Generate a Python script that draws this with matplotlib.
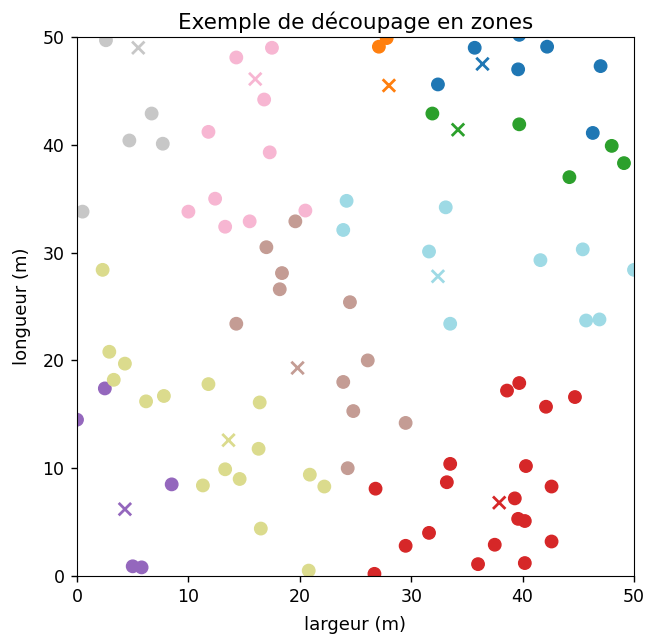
import matplotlib.pyplot as plt
import numpy as np

# points of each zone (largeur, longueur)
zone_x = [
    [35.7, 39.7, 42.2, 32.4, 39.6, 47.0, 46.3],
    [27.1, 27.8],
    [31.9, 39.7, 48.0, 49.1, 44.2],
    [26.8, 29.5, 31.6, 33.2, 33.5, 36.0, 37.5, 38.6, 39.7, 39.3, 39.6, 40.2, 40.3, 40.2, 42.1, 42.6, 42.6, 44.7, 26.7],
    [0.0, 2.5, 8.5, 5.0, 5.8],
    [17.0, 19.6, 18.4, 18.2, 14.3, 24.5, 26.1, 23.9, 24.8, 29.5, 24.3],
    [14.3, 17.5, 16.8, 11.8, 17.3, 12.4, 10.0, 13.3, 15.5, 20.5],
    [2.6, 6.7, 4.7, 7.7, 0.5],
    [2.3, 2.9, 4.3, 3.3, 6.2, 7.8, 11.8, 16.4, 16.3, 13.3, 11.3, 14.6, 20.9, 22.2, 16.5, 20.8],
    [24.2, 23.9, 33.1, 31.6, 41.6, 45.4, 33.5, 45.7, 46.9, 50.0],
]
zone_y = [
    [49.0, 50.2, 49.1, 45.6, 47.0, 47.3, 41.1],
    [49.1, 49.9],
    [42.9, 41.9, 39.9, 38.3, 37.0],
    [8.1, 2.8, 4.0, 8.7, 10.4, 1.1, 2.9, 17.2, 17.9, 7.2, 5.3, 5.1, 10.2, 1.2, 15.7, 8.3, 3.2, 16.6, 0.2],
    [14.5, 17.4, 8.5, 0.9, 0.8],
    [30.5, 32.9, 28.1, 26.6, 23.4, 25.4, 20.0, 18.0, 15.3, 14.2, 10.0],
    [48.1, 49.0, 44.2, 41.2, 39.3, 35.0, 33.8, 32.4, 32.9, 33.9],
    [49.7, 42.9, 40.4, 40.1, 33.8],
    [28.4, 20.8, 19.7, 18.2, 16.2, 16.7, 17.8, 16.1, 11.8, 9.9, 8.4, 9.0, 9.4, 8.3, 4.4, 0.5],
    [34.8, 32.1, 34.2, 30.1, 29.3, 30.3, 23.4, 23.7, 23.8, 28.4],
]

# zone centres (x markers)
centre_x = [36.4, 28.0, 34.2, 37.9, 4.3, 19.8, 16.0, 5.5, 13.6, 32.4]
centre_y = [47.5, 45.5, 41.4, 6.8, 6.2, 19.3, 46.1, 49.0, 12.6, 27.8]

x = np.concatenate(zone_x)
y = np.concatenate(zone_y)
labels = np.concatenate([[i] * len(v) for i, v in enumerate(zone_x)])

fig = plt.figure(figsize=(6.48, 6.39), dpi=100)
ax = fig.add_axes([77 / 648, 1 - 576 / 639, 557 / 648, 539 / 639])

ax.scatter(x, y, c=labels, cmap='tab20', s=80)
ax.scatter(centre_x, centre_y, c=range(len(centre_x)), cmap='tab20', marker='x', s=80, linewidths=2)

ax.set_xlim(0, 50)
ax.set_ylim(0, 50)
ax.set_xlabel('largeur (m)', fontsize=13, labelpad=6.5)
ax.set_ylabel('longueur (m)', fontsize=13, labelpad=8)
ax.set_title('Exemple de découpage en zones', fontsize=15.5)
ax.tick_params(labelsize=12.5, length=4.5, width=1, pad=4.5)

plt.savefig('out.png')
